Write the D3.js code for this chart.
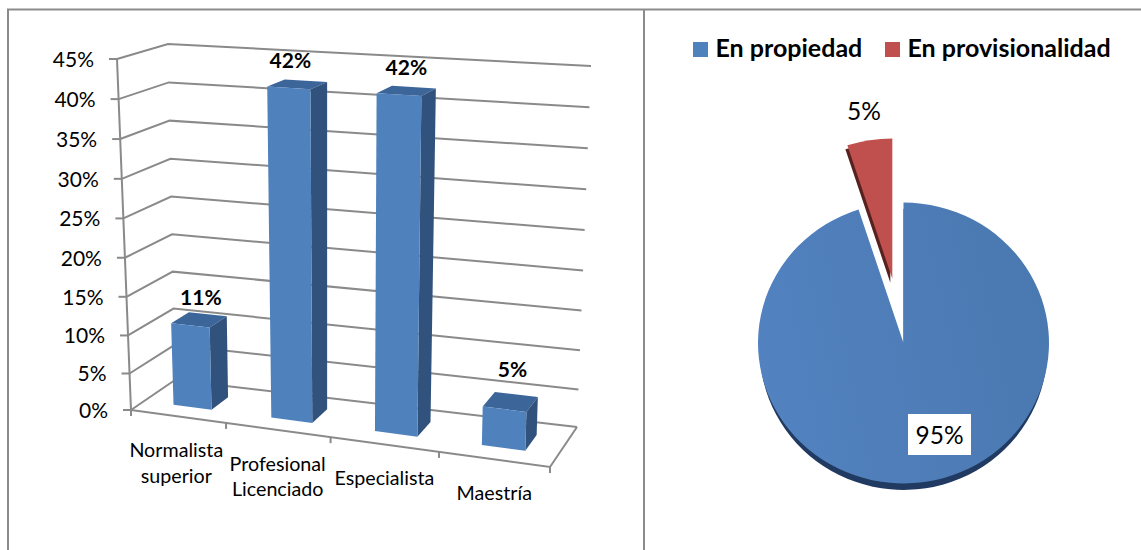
<!DOCTYPE html>
<html>
<head>
<meta charset="utf-8">
<script src="https://cdn.jsdelivr.net/npm/d3@7/dist/d3.min.js"></script>
<style>
  html, body { margin: 0; padding: 0; background: #fff; }
  svg { display: block; }
  text { font-family: Lato, "Open Sans", sans-serif; fill: #000; }
</style>
</head>
<body>
<svg id="chart" width="1141" height="550"></svg>
<script>
// Education level of staff (3D columns)
const levelLabels = [["Normalista", "superior"], ["Profesional", "Licenciado"], ["Especialista"], ["Maestría"]];
const levelKeys = ["Normalista superior", "Profesional Licenciado", "Especialista", "Maestría"];
const levelValues = [11, 42, 42, 5];
const valueTicks = [0, 5, 10, 15, 20, 25, 30, 35, 40, 45];

// Employment status (exploded pie)
const statusNames = ["En propiedad", "En provisionalidad"];
const statusValues = [95, 5];

const colors = {
  frame: "#8b8b8b", grid: "#8a8a8a",
  front: "#4f81bd", side: "#31527c", top: "#3c659a",
  blue: "#4f81bd", red: "#c0504d", blueEdge: "#203a61", redEdge: "#56211f"
};

const svg = d3.select("#chart");

// Panel frame
const framePath = d3.path();
framePath.moveTo(8, 550); framePath.lineTo(8, 9.5); framePath.lineTo(1141, 9.5);
framePath.moveTo(644, 9.5); framePath.lineTo(644, 550);
svg.append("path").attr("d", framePath.toString())
  .attr("fill", "none").attr("stroke", colors.frame).attr("stroke-width", 2);

// Corners of the 3D plot box as they land on screen: [category, height, depth]
const box = {
  "000": [131, 410], "100": [550, 467], "001": [175, 380], "101": [577, 427],
  "010": [117, 59],  "110": [562, 85],  "011": [168, 44],  "111": [591, 66]
};
function project(u, h, w) {
  const out = [0, 0];
  for (const a of [0, 1]) for (const b of [0, 1]) for (const c of [0, 1]) {
    const k = (a ? u : 1 - u) * (b ? h : 1 - h) * (c ? w : 1 - w);
    const p = box[`${a}${b}${c}`];
    out[0] += k * p[0];
    out[1] += k * p[1];
  }
  return out;
}

// Category slots along the floor, and the narrower columns standing in them
const slot = d3.scaleBand().domain(levelKeys).range([0, 1]);
const band = d3.scaleBand().domain(levelKeys).range([0.01, 1]).paddingInner(0.6).paddingOuter(0.3);
const across = d3.scalePow().exponent(1.07).domain([0, 1]).range([0, 1]);
const height = d3.scalePow().exponent(1.03).domain([0, 45]).range([0, 1]);
const depth = d3.scaleLinear().domain([0, 1]).range([0.3, 0.7]);
const line = d3.line();
const P = (t, v, d) => project(across(t), height(v), d);

const plot = svg.append("g");

// Walls: one polyline per tick across the left and back planes
plot.append("g").selectAll("path").data(valueTicks).join("path")
  .attr("d", v => line([P(0, v, 0), P(0, v, 1), P(1, v, 1)]))
  .attr("fill", "none").attr("stroke", colors.grid).attr("stroke-width", 2);

// Floor outline, value axis line
plot.append("path").attr("d", line([P(0, 0, 0), P(1, 0, 0), P(1, 0, 1)]))
  .attr("fill", "none").attr("stroke", colors.grid).attr("stroke-width", 2);
plot.append("path").attr("d", line([P(0, 0, 0), P(0, 45, 0)]))
  .attr("fill", "none").attr("stroke", colors.grid).attr("stroke-width", 2);

// Value ticks and labels
const vt = plot.append("g").selectAll("g").data(valueTicks).join("g");
vt.append("path").attr("d", v => { const p = P(0, v, 0); return line([[p[0] - 8, p[1]], p]); })
  .attr("stroke", colors.grid).attr("stroke-width", 2);
vt.append("text")
  .attr("x", v => P(0, v, 0)[0] - 23)
  .attr("y", v => P(0, v, 0)[1] + 8)
  .attr("text-anchor", "end").attr("font-size", 21)
  .text(v => `${v}%`);

// Category ticks along the front edge of the floor
const edgeTicks = [0, 0.25, 0.5, 0.75, 1];
plot.append("g").selectAll("path").data(edgeTicks).join("path")
  .attr("d", t => { const p = P(t, 0, 0); return line([p, [p[0], p[1] + 6]]); })
  .attr("stroke", colors.grid).attr("stroke-width", 2);

// Columns: top, side, then front face
const columns = plot.append("g").selectAll("g").data(levelKeys).join("g");
const dims = (k, i) => ({ x0: band(k), x1: band(k) + band.bandwidth(), v: levelValues[i] });
columns.append("path").attr("fill", colors.top).attr("d", (k, i) => {
  const { x0, x1, v } = dims(k, i);
  return line([P(x0, v, depth(0)), P(x1, v, depth(0)), P(x1, v, depth(1)), P(x0, v, depth(1))]) + "Z";
});
columns.append("path").attr("fill", colors.side).attr("d", (k, i) => {
  const { x1, v } = dims(k, i);
  return line([P(x1, 0, depth(0)), P(x1, v, depth(0)), P(x1, v, depth(1)), P(x1, 0, depth(1))]) + "Z";
});
columns.append("path").attr("fill", colors.front).attr("d", (k, i) => {
  const { x0, x1, v } = dims(k, i);
  return line([P(x0, 0, depth(0)), P(x0, v, depth(0)), P(x1, v, depth(0)), P(x1, 0, depth(0))]) + "Z";
});

// Value labels above each column, nudged clear of the gridlines
const labelShift = [[2, 0], [-7, -1], [0, -1], [2, -10]];
const labelPoint = (k, i) => P(band(k) + band.bandwidth() / 2, levelValues[i], 0.5);
columns.append("text")
  .attr("x", (k, i) => labelPoint(k, i)[0] + labelShift[i][0])
  .attr("y", (k, i) => labelPoint(k, i)[1] - 15 + labelShift[i][1])
  .attr("text-anchor", "middle").attr("font-size", 21).attr("font-weight", 700)
  .text((k, i) => `${levelValues[i]}%`);

// Category labels
const catLabels = plot.append("g").selectAll("text").data(levelKeys).join("text")
  .attr("font-size", 19.7).attr("text-anchor", "middle")
  .attr("transform", k => {
    const p = P(slot(k) + slot.bandwidth() / 2, 0, 0);
    return `translate(${p[0]},${p[1] + 41})`;
  });
catLabels.selectAll("tspan").data((k, i) => levelLabels[i]).join("tspan")
  .attr("x", 0).attr("dy", (d, i) => i ? 25.5 : 0).text(d => d);

// Pie
const defs = svg.append("defs");
const grad = defs.append("linearGradient").attr("id", "pieBlue")
  .attr("x1", "0%").attr("y1", "60%").attr("x2", "100%").attr("y2", "40%");
grad.append("stop").attr("offset", "0%").attr("stop-color", "#5282c0");
grad.append("stop").attr("offset", "100%").attr("stop-color", "#4a78b0");

const pieCenter = [903.5, 343], pieR = 145.5, squash = 0.965;
const slices = d3.pie().sort(null).value(d => d)(statusValues);
const arc = d3.arc().innerRadius(0).outerRadius(pieR);
const sliceFill = ["url(#pieBlue)", colors.red];
const edgeFill = [colors.blueEdge, colors.redEdge];
// Distance the small slice is pulled out along its own bisector
const explode = [0, 65];
const drift = [0, -1];
const sliceOrigin = (d, i) => {
  const a = (d.startAngle + d.endAngle) / 2;
  return [pieCenter[0] + drift[i] + explode[i] * Math.sin(a), pieCenter[1] - explode[i] * Math.cos(a)];
};
// Extruded rim: a dark copy of each slice, slightly offset below the face
const edgeOffset = [[0, 6.5], [-2, 4]];
const edgeWidth = [0.988, 1];
const pieG = svg.append("g");
pieG.selectAll("path.edge").data(slices).join("path").attr("class", "edge")
  .attr("d", arc).attr("fill", (d, i) => edgeFill[i])
  .attr("transform", (d, i) => {
    const o = sliceOrigin(d, i);
    return `translate(${o[0] + edgeOffset[i][0]},${o[1] + edgeOffset[i][1]}) scale(${edgeWidth[i]},${squash})`;
  });
pieG.selectAll("path.face").data(slices).join("path").attr("class", "face")
  .attr("d", arc).attr("fill", (d, i) => sliceFill[i])
  .attr("transform", (d, i) => {
    const o = sliceOrigin(d, i);
    return `translate(${o[0]},${o[1]}) scale(1,${squash})`;
  });

// Pie value labels
svg.append("rect").attr("x", 908).attr("y", 414).attr("width", 63).attr("height", 41).attr("fill", "#fff");
svg.append("text").attr("x", 939.5).attr("y", 444).attr("text-anchor", "middle").attr("font-size", 24.5)
  .text(`${statusValues[0]}%`);
svg.append("text").attr("x", 864).attr("y", 120).attr("text-anchor", "middle").attr("font-size", 24.5)
  .text(`${statusValues[1]}%`);

// Legend
const legendX = [693, 885];
const legend = svg.append("g").selectAll("g").data(statusNames).join("g")
  .attr("transform", (d, i) => `translate(${legendX[i]},42)`);
legend.append("rect").attr("width", 15).attr("height", 15).attr("fill", (d, i) => [colors.blue, colors.red][i]);
legend.append("text").attr("x", 22.5).attr("y", 15).attr("font-size", 25).attr("font-weight", 700).text(d => d);
</script>
</body>
</html>
